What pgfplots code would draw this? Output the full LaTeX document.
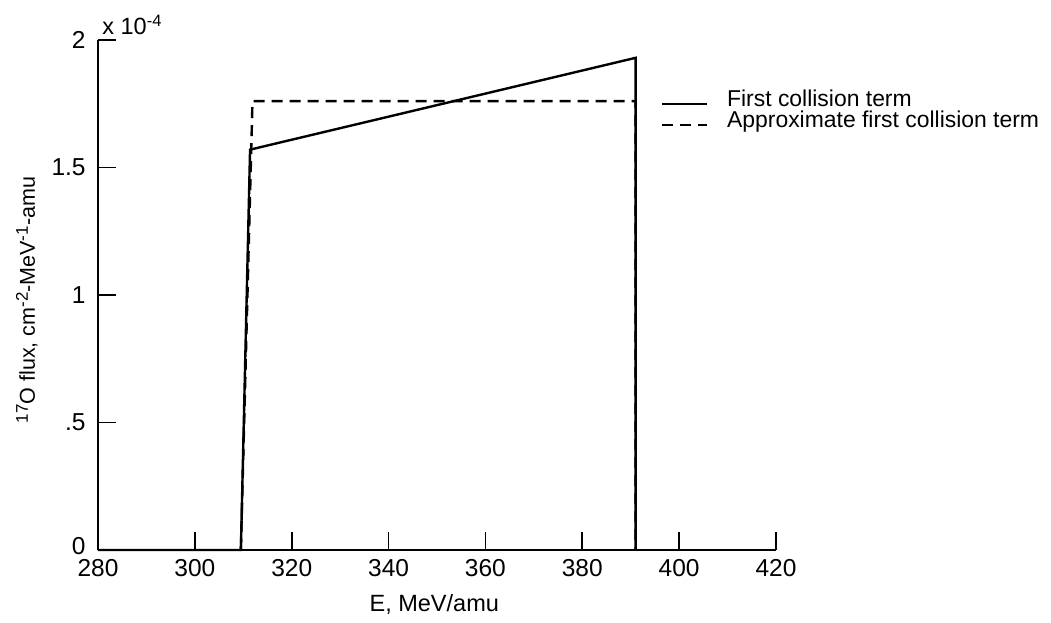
\documentclass[border=0pt]{standalone}
\usepackage{fontspec}
\setmainfont{Liberation Sans}
\usepackage{pgfplots}
\pgfplotsset{compat=1.18}
\newcommand{\up}[1]{\raisebox{0.6ex}{\fontsize{8.5}{9}\selectfont #1}}
\begin{document}
\fontsize{11.5}{13}\selectfont
\begin{tikzpicture}
\begin{axis}[
  scale only axis,
  width=339bp, height=255bp,
  xmin=280, xmax=420, ymin=0, ymax=2,
  axis lines=left,
  axis line style={-, line width=0.9bp},
  xtick={280,300,320,340,360,380,400,420},
  xticklabels={280,300,320,340,360,380,400,420},
  ytick={0,0.5,1,1.5,2},
  yticklabels={\raisebox{4.5bp}{0},.5,1,1.5,2},
  tick align=inside,
  major tick length=9bp,
  tick style={line width=0.8bp, black},
  xticklabel style={anchor=base, inner sep=0pt, yshift=-13.5bp, font=\fontsize{12.3}{13}\selectfont},
  yticklabel style={anchor=east, inner sep=0pt, xshift=-6bp, font=\fontsize{12.3}{13}\selectfont},
  xlabel={E, MeV/amu},
  xlabel style={at={(axis description cs:0.496,0)}, anchor=base, yshift=-31bp, font=\fontsize{11.8}{13}\selectfont},
  ylabel={\fontsize{10.8}{12}\selectfont\up{17}O flux, cm\up{-2}-MeV\up{-1}-amu},
  ylabel style={at={(axis description cs:-0.105,0.49)}, anchor=center},
  legend style={draw=none, fill=none, inner sep=0pt, outer sep=0pt,
    at={(axis description cs:0.83,0.9)}, anchor=north west,
    column sep=9.5bp, row sep=0pt,
    nodes={inner sep=0pt, text height=8bp, text depth=2.5bp},
    font=\fontsize{11.5}{13}\selectfont},
  legend cell align=left,
  legend image code/.code={\draw[#1] (0bp,-1.2bp) -- (22.5bp,-1.2bp);},
  clip=false,
]
\addplot[black, line width=1.2bp] coordinates {(280,0) (309.5,0) (311.4,1.57) (391,1.93) (391,0)};
\addlegendentry{First collision term}
\addplot[black, line width=1.2bp, dash pattern=on 5.5bp off 3.5bp] coordinates {(309.5,0) (311.9,1.76) (391,1.76) (391,0)};
\addlegendentry{Approximate first collision term}
\node[anchor=base west, inner sep=0pt, font=\fontsize{11.8}{13}\selectfont, xshift=2bp, yshift=2.5bp] at (rel axis cs:0,1) {x 10\textsuperscript{-4}};
\end{axis}
\path[use as bounding box] (-49bp,-33.5bp) rectangle (476.5bp,275bp);
\end{tikzpicture}
\end{document}
